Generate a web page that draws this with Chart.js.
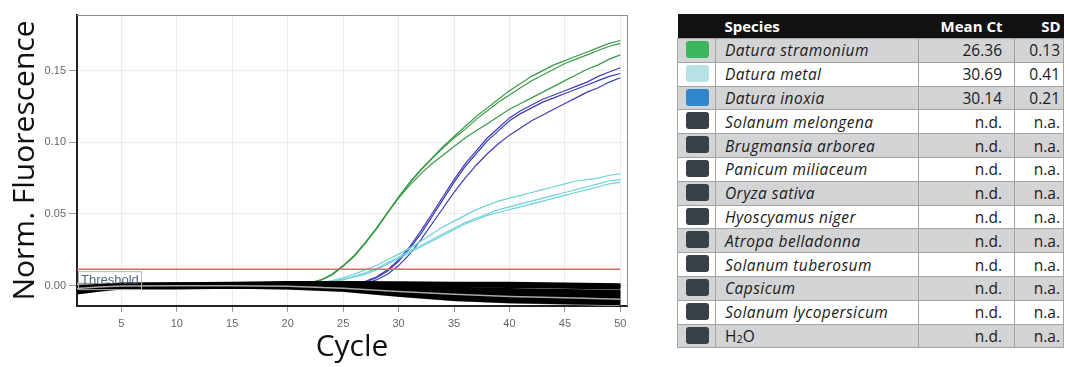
<!DOCTYPE html>
<html>
<head>
<meta charset="utf-8">
<script src="https://cdn.jsdelivr.net/npm/chart.js@4"></script>
<style>
  html, body { margin: 0; padding: 0; background: #fff; }
  body { width: 1065px; height: 367px; position: relative; overflow: hidden; }
  #chart-box { position: absolute; left: 0; top: 0; width: 640px; height: 367px; }
  #species-table {
    position: absolute; left: 677px; top: 14px; width: 386px;
    border-collapse: collapse; table-layout: fixed;
    font-family: "Open Sans", Lato, sans-serif; font-size: 15.5px; color: #1a1a1a;
  }
  #species-table th { background: #111; color: #fff; font-weight: bold; font-size: 15px; height: 24px; padding: 0; }
  #species-table td { height: 22.8px; padding: 0; border: 1px solid #a3a3a3; }
  #species-table tr.grey td { background: #d3d4d6; }
  #species-table .name { padding-left: 9px; font-style: italic; text-align: left; letter-spacing: 0.45px; }
  #species-table .ct { text-align: right; padding-right: 12px; }
  #species-table .sd { text-align: right; padding-right: 3px; }
  .swatch { width: 23px; height: 17px; border-radius: 3px; margin: 0 0 3px 8px; }
</style>
</head>
<body>
<div id="chart-box"><canvas id="pcr-chart" width="640" height="367"></canvas></div>
<table id="species-table"></table>

<script>
// cycles 1..50
const cycles = Array.from({ length: 50 }, (_, i) => i + 1);
const xTicks = [5, 10, 15, 20, 25, 30, 35, 40, 45, 50];
const yTicks = [0, 0.05, 0.10, 0.15];
const threshold = 0.0115;

// Datura stramonium (3 replicates)
const stramoniumA = [0,0,0,0,0,0,0,0,0,0, 0,0,0,0,0,0,0,0,0,0,
  0.0008,0.002,0.004,0.008,0.014,0.021,0.030,0.040,0.051,0.062,
  0.072,0.081,0.089,0.097,0.104,0.111,0.118,0.124,0.130,0.136,
  0.141,0.146,0.150,0.154,0.157,0.160,0.163,0.166,0.169,0.171];
const stramoniumB = [0,0,0,0,0,0,0,0,0,0, 0,0,0,0,0,0,0,0,0,0,
  0.0006,0.0018,0.0038,0.0075,0.0135,0.0205,0.0295,0.0395,0.0505,0.0615,
  0.0715,0.0805,0.0885,0.096,0.103,0.109,0.116,0.122,0.128,0.133,
  0.138,0.143,0.147,0.151,0.155,0.158,0.161,0.164,0.167,0.169];
const stramoniumC = [0,0,0,0,0,0,0,0,0,0, 0,0,0,0,0,0,0,0,0,0,
  0.0007,0.0019,0.0039,0.0078,0.0138,0.0208,0.030,0.040,0.051,0.061,
  0.070,0.078,0.085,0.091,0.097,0.103,0.108,0.113,0.118,0.123,
  0.127,0.131,0.135,0.139,0.143,0.147,0.151,0.154,0.158,0.161];

// Datura inoxia
const inoxiaA = [0,0,0,0,0,0,0,0,0,0, 0,0,0,0,0,0,0,0,0,0,
  0,0,0,0,0,0.001,0.003,0.006,0.011,0.018,
  0.027,0.038,0.050,0.062,0.074,0.085,0.094,0.103,0.110,0.117,
  0.122,0.126,0.130,0.133,0.136,0.139,0.142,0.146,0.149,0.152];
const inoxiaB = [0,0,0,0,0,0,0,0,0,0, 0,0,0,0,0,0,0,0,0,0,
  0,0,0,0,0,0.0008,0.0025,0.0055,0.010,0.017,
  0.026,0.036,0.048,0.060,0.072,0.083,0.092,0.101,0.108,0.115,
  0.120,0.124,0.128,0.131,0.134,0.137,0.140,0.143,0.146,0.148];
const inoxiaC = [0,0,0,0,0,0,0,0,0,0, 0,0,0,0,0,0,0,0,0,0,
  0,0,0,0,0,0.0005,0.0015,0.004,0.008,0.014,
  0.022,0.032,0.043,0.054,0.065,0.075,0.084,0.092,0.099,0.105,
  0.110,0.115,0.119,0.123,0.127,0.131,0.135,0.138,0.142,0.145];

// Datura metal
const metalA = [0,0,0,0,0,0,0,0,0,0, 0,0,0,0,0,0,0,0,0,0,
  0,0.001,0.002,0.0035,0.0055,0.008,0.011,0.014,0.018,0.022,
  0.026,0.031,0.036,0.041,0.045,0.049,0.053,0.056,0.059,0.061,
  0.063,0.065,0.067,0.069,0.071,0.073,0.074,0.075,0.077,0.078];
const metalB = [0,0,0,0,0,0,0,0,0,0, 0,0,0,0,0,0,0,0,0,0,
  0,0.0008,0.0016,0.003,0.0045,0.0065,0.009,0.012,0.016,0.020,
  0.024,0.028,0.032,0.036,0.040,0.044,0.047,0.050,0.053,0.055,
  0.057,0.059,0.061,0.063,0.065,0.067,0.069,0.071,0.073,0.074];
const metalC = [0,0,0,0,0,0,0,0,0,0, 0,0,0,0,0,0,0,0,0,0,
  0,0.0006,0.0013,0.0025,0.004,0.006,0.008,0.011,0.015,0.019,
  0.023,0.027,0.031,0.035,0.039,0.043,0.046,0.049,0.051,0.053,
  0.055,0.057,0.059,0.061,0.063,0.065,0.067,0.069,0.071,0.072];

// negative samples, read at fewer cycles
const negCycles = [1, 3, 5, 10, 15, 20, 25, 30, 35, 40, 45, 50];
const negBlack = [
  [-0.0010,0.0000,0.0010,0.0012,0.0015,0.0020,0.0020,0.0018,0.0015,0.0015,0.0010,0.0005],
  [-0.0020,-0.0008,0.0005,0.0008,0.0010,0.0012,0.0010,0.0005,0.0000,-0.0005,-0.0010,-0.0015],
  [-0.0025,-0.0012,0.0000,0.0005,0.0008,0.0008,0.0000,-0.0010,-0.0020,-0.0028,-0.0035,-0.0040],
  [-0.0030,-0.0015,-0.0005,0.0000,0.0005,0.0003,-0.0008,-0.0020,-0.0035,-0.0045,-0.0055,-0.0060],
  [-0.0035,-0.0020,-0.0008,-0.0005,0.0000,-0.0003,-0.0015,-0.0030,-0.0048,-0.0062,-0.0072,-0.0080],
  [-0.0040,-0.0022,-0.0010,-0.0008,-0.0005,-0.0008,-0.0020,-0.0042,-0.0062,-0.0078,-0.0088,-0.0095],
  [-0.0045,-0.0026,-0.0012,-0.0010,-0.0008,-0.0012,-0.0025,-0.0052,-0.0078,-0.0093,-0.0103,-0.0110],
  [-0.0050,-0.0030,-0.0015,-0.0015,-0.0010,-0.0015,-0.0030,-0.0065,-0.0095,-0.0110,-0.0118,-0.0125],
  [-0.0015,-0.0005,0.0008,0.0010,0.0012,0.0015,0.0015,0.0012,0.0008,0.0005,0.0000,-0.0005],
  [-0.0028,-0.0014,-0.0003,0.0002,0.0006,0.0005,-0.0004,-0.0015,-0.0028,-0.0036,-0.0045,-0.0050],
];
const negGreyUnder = [
  [-0.0040,-0.0025,-0.0015,-0.0012,-0.0012,-0.0020,-0.0035,-0.0070,-0.0100,-0.0115,-0.0125,-0.0135],
  [0.0012,0.0010,0.0008,0.0010,0.0012,0.0015,0.0015,0.0012,0.0010,0.0010,0.0006,0.0002],
];
const negGreyOver = [
  [-0.0020,-0.0010,-0.0003,0.0000,0.0000,-0.0005,-0.0018,-0.0040,-0.0060,-0.0075,-0.0085,-0.0095],
];

// table on the right
const species = ["Datura stramonium", "Datura metal", "Datura inoxia", "Solanum melongena",
  "Brugmansia arborea", "Panicum miliaceum", "Oryza sativa", "Hyoscyamus niger",
  "Atropa belladonna", "Solanum tuberosum", "Capsicum", "Solanum lycopersicum", "H2O"];
const meanCt = ["26.36", "30.69", "30.14", "n.d.", "n.d.", "n.d.", "n.d.", "n.d.", "n.d.", "n.d.", "n.d.", "n.d.", "n.d."];
const sdValues = ["0.13", "0.41", "0.21", "n.a.", "n.a.", "n.a.", "n.a.", "n.a.", "n.a.", "n.a.", "n.a.", "n.a.", "n.a."];
const swatchColors = ["#3cb65c", "#b6e2e5", "#2e86cb", "#3a4048", "#3a4048", "#3a4048", "#3a4048",
  "#3a4048", "#3a4048", "#3a4048", "#3a4048", "#3a4048", "#3a4048"];

const GREEN = "#3a9a48";
const BLUE = "#3c3cb4";
const CYAN = "#6fd2da";

document.addEventListener("DOMContentLoaded", function () {
  // --- table ---
  const table = document.getElementById("species-table");
  let html = "<colgroup><col style='width:38px'><col style='width:203px'><col style='width:96px'><col style='width:49px'></colgroup>";
  html += "<tr><th></th><th style='text-align:left;padding-left:9px'>Species</th><th style='text-align:right;padding-right:12px'>Mean Ct</th><th style='text-align:right;padding-right:3px'>SD</th></tr>";
  species.forEach((name, i) => {
    const label = name === "H2O" ? "<span style='font-style:normal;letter-spacing:0'>H<sub style='font-size:11px;vertical-align:-1px'>2</sub>O</span>" : name;
    html += `<tr class="${i % 2 === 0 ? "grey" : ""}">
      <td style="vertical-align:top"><div class="swatch" style="background:${swatchColors[i]};margin-top:2px"></div></td>
      <td class="name">${label}</td>
      <td class="ct">${meanCt[i]}</td>
      <td class="sd">${sdValues[i]}</td></tr>`;
  });
  table.innerHTML = html;

  // --- chart ---
  const toPoints = (xs, ys) => ys.map((y, i) => ({ x: xs[i], y: y }));
  const line = (data, color, width, order) => ({
    data: data, borderColor: color, borderWidth: width, pointRadius: 0,
    fill: false, tension: 0, order: order,
  });

  // lower order = drawn on top
  const datasets = [];
  datasets.push(line([{ x: 1, y: threshold }, { x: 50, y: threshold }], "#e06464", 1.5, 0));
  negGreyOver.forEach(s => datasets.push(line(toPoints(negCycles, s), "#a8a8a8", 1.5, 1)));
  negBlack.forEach(s => datasets.push(line(toPoints(negCycles, s), "#000", 3.5, 2)));
  negGreyUnder.forEach(s => datasets.push(line(toPoints(negCycles, s), "#a0a0a0", 2.5, 3)));
  [metalA, metalB, metalC].forEach(s => datasets.push(line(toPoints(cycles, s), CYAN, 1.2, 4)));
  [inoxiaA, inoxiaB, inoxiaC].forEach(s => datasets.push(line(toPoints(cycles, s), BLUE, 1.2, 4)));
  [stramoniumA, stramoniumB, stramoniumC].forEach(s => datasets.push(line(toPoints(cycles, s), GREEN, 1.2, 4)));

  // frame on top/right + threshold label
  const extras = {
    id: "extras",
    afterDatasetsDraw(chart) {
      const { ctx, chartArea, scales } = chart;
      ctx.save();
      ctx.strokeStyle = "#8a8a8a";
      ctx.lineWidth = 1;
      ctx.beginPath();
      ctx.moveTo(chartArea.left, chartArea.top + 0.5);
      ctx.lineTo(chartArea.right + 0.5, chartArea.top + 0.5);
      ctx.lineTo(chartArea.right + 0.5, chartArea.bottom);
      ctx.stroke();

      const ty = scales.y.getPixelForValue(threshold);
      const bx = chartArea.left + 1;
      ctx.strokeStyle = "#b4b4b4";
      ctx.strokeRect(bx + 0.5, ty + 2.5, 63, 18);
      ctx.fillStyle = "#56677a";
      ctx.font = "13px 'Liberation Sans', Arial, sans-serif";
      ctx.textBaseline = "middle";
      ctx.fillText("Threshold", bx + 3, ty + 11.5);
      ctx.restore();
    }
  };

  const ctx = document.getElementById("pcr-chart").getContext("2d");
  new Chart(ctx, {
    type: "line",
    data: { datasets: datasets },
    plugins: [extras],
    options: {
      responsive: false,
      animation: false,
      layout: { padding: { top: 15, right: 13, left: 0, bottom: 0 } },
      plugins: { legend: { display: false }, tooltip: { enabled: false } },
      scales: {
        x: {
          type: "linear", min: 1, max: 50.6,
          afterBuildTicks: (s) => { s.ticks = xTicks.map(v => ({ value: v })); },
          afterFit: (s) => { s.height = 61; },
          ticks: { color: "#666", font: { size: 11, family: "'Liberation Sans', Arial" }, padding: 5, maxRotation: 0 },
          grid: { color: "#ebebeb", tickColor: "#999", tickLength: 6 },
          border: { display: true, color: "#222", width: 2 },
          title: { display: true, text: "Cycle", color: "#111", font: { size: 30, family: "'Open Sans'" }, padding: { top: 0, bottom: 2 } },
        },
        y: {
          type: "linear", min: -0.0142, max: 0.1888,
          afterBuildTicks: (s) => { s.ticks = yTicks.map(v => ({ value: v })); },
          afterFit: (s) => { s.width = 77; },
          ticks: { color: "#666", font: { size: 11, family: "'Liberation Sans', Arial" }, padding: 3, callback: (v) => v.toFixed(2) },
          grid: { color: "#ebebeb", tickColor: "#999", tickLength: 8 },
          border: { display: true, color: "#222", width: 2 },
          title: { display: true, text: "Norm. Fluorescence", color: "#111", font: { size: 30, family: "'Open Sans'" }, padding: { top: 7, bottom: 0 } },
        },
      },
    },
  });
});
</script>
</body>
</html>
